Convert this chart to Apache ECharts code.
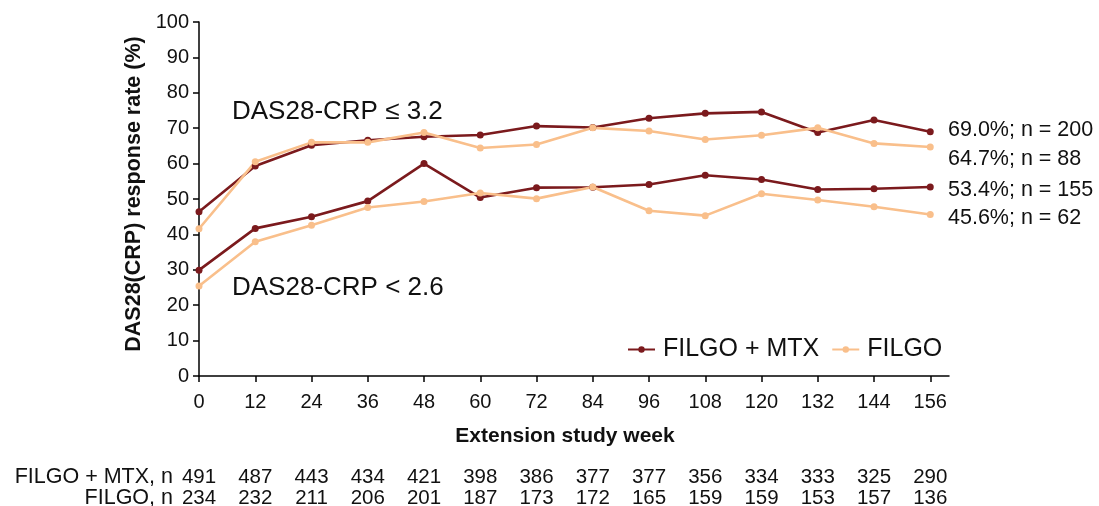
<!DOCTYPE html>
<html>
<head>
<meta charset="utf-8">
<script src="https://cdn.jsdelivr.net/npm/echarts@6/dist/echarts.min.js"></script>
<style>
  html, body { margin: 0; padding: 0; background: #fff; }
  #chart { width: 1099px; height: 506px; }
</style>
</head>
<body>
<div id="chart"></div>
<script>
// ---- data ----
const weeks = [0, 12, 24, 36, 48, 60, 72, 84, 96, 108, 120, 132, 144, 156];
const mtxDas32   = [46.4, 59.3, 65.2, 66.6, 67.6, 68.1, 70.6, 70.2, 72.8, 74.2, 74.6, 68.8, 72.3, 69.0];
const filgoDas32 = [41.6, 60.5, 66.0, 66.0, 68.8, 64.4, 65.4, 70.1, 69.2, 66.8, 68.0, 70.1, 65.7, 64.7];
const mtxDas26   = [29.9, 41.7, 45.0, 49.4, 60.0, 50.4, 53.2, 53.3, 54.1, 56.7, 55.5, 52.7, 52.9, 53.4];
const filgoDas26 = [25.4, 37.9, 42.6, 47.6, 49.3, 51.7, 50.1, 53.4, 46.7, 45.3, 51.5, 49.7, 47.8, 45.6];
const nMtx   = [491, 487, 443, 434, 421, 398, 386, 377, 377, 356, 334, 333, 325, 290];
const nFilgo = [234, 232, 211, 206, 201, 187, 173, 172, 165, 159, 159, 153, 157, 136];
const yTicks = [0, 10, 20, 30, 40, 50, 60, 70, 80, 90, 100];
const endLabels = ['69.0%; n = 200', '64.7%; n = 88', '53.4%; n = 155', '45.6%; n = 62'];
const groupLabels = ['DAS28-CRP \u2264 3.2', 'DAS28-CRP < 2.6'];
const seriesNames = ['FILGO + MTX', 'FILGO'];

const DARK = '#7b1a1d';
const LIGHT = '#f9bf8b';
const FONT = "'Liberation Sans', Arial, sans-serif";

const pairs = arr => weeks.map((w, i) => [w, arr[i]]);

function lineSeries(name, arr, color) {
  return {
    type: 'line', name: name, data: pairs(arr),
    symbol: 'circle', symbolSize: 7,
    lineStyle: { color: color, width: 2.6 },
    itemStyle: { color: color },
    emphasis: { disabled: true },
    animation: false
  };
}

function nAxis(name, values, offset) {
  return {
    type: 'value', min: 0, max: 160, position: 'bottom', offset: offset,
    axisLine: { show: false }, axisTick: { show: false }, splitLine: { show: false },
    axisLabel: {
      customValues: weeks, margin: 0, verticalAlign: 'middle',
      fontSize: 20.5, color: '#111', fontFamily: FONT,
      formatter: v => { const i = weeks.indexOf(v); return i >= 0 ? String(values[i]) : ''; }
    },
    name: name, nameLocation: 'start', nameGap: 26,
    nameTextStyle: { fontSize: 21.5, color: '#111', fontFamily: FONT, verticalAlign: 'middle' }
  };
}

const chart = echarts.init(document.getElementById('chart'));
chart.setOption({
  backgroundColor: '#fff',
  animation: false,
  grid: { left: 199, right: 150, top: 22, bottom: 130, containLabel: false, outerBoundsMode: 'none' },
  xAxis: [
    {
      type: 'value', min: 0, max: 160,
      axisLine: { lineStyle: { color: '#000', width: 1.5 } },
      axisTick: { customValues: weeks, length: 6, lineStyle: { color: '#000', width: 1.5 } },
      axisLabel: { customValues: weeks, margin: 26, verticalAlign: 'middle', fontSize: 20, color: '#111', fontFamily: FONT },
      splitLine: { show: false }
    },
    nAxis('FILGO + MTX, n', nMtx, 101),
    nAxis('FILGO, n', nFilgo, 122)
  ],
  yAxis: {
    type: 'value', min: 0, max: 100, interval: 10,
    axisLine: { show: true, lineStyle: { color: '#000', width: 1.5 } },
    axisTick: { show: true, length: 6, lineStyle: { color: '#000', width: 1.5 } },
    axisLabel: { margin: 10, fontSize: 20, color: '#111', fontFamily: FONT },
    splitLine: { show: false },
    name: 'DAS28(CRP) response rate (%)', nameLocation: 'middle', nameGap: 44,
    nameTextStyle: { fontSize: 21.5, fontWeight: 'bold', color: '#111', fontFamily: FONT, padding: [0, 0, 0, 10] }
  },
  legend: {
    data: seriesNames, left: 622, top: 332, itemWidth: 27, itemHeight: 8, itemGap: 12,
    textStyle: { fontSize: 25, color: '#111', fontFamily: FONT, padding: [0, 0, 0, 3] }
  },
  graphic: [
    { type: 'text', x: 565, y: 436, style: { text: 'Extension study week', font: 'bold 21px ' + FONT, fill: '#111', align: 'center', verticalAlign: 'middle' } },
    { type: 'text', x: 232, y: 112, style: { text: groupLabels[0], font: '26px ' + FONT, fill: '#111', align: 'left', verticalAlign: 'middle' } },
    { type: 'text', x: 232, y: 288, style: { text: groupLabels[1], font: '26px ' + FONT, fill: '#111', align: 'left', verticalAlign: 'middle' } },
    { type: 'text', x: 948, y: 130, style: { text: endLabels[0], font: '21.5px ' + FONT, fill: '#111', align: 'left', verticalAlign: 'middle' } },
    { type: 'text', x: 948, y: 159, style: { text: endLabels[1], font: '21.5px ' + FONT, fill: '#111', align: 'left', verticalAlign: 'middle' } },
    { type: 'text', x: 948, y: 190, style: { text: endLabels[2], font: '21.5px ' + FONT, fill: '#111', align: 'left', verticalAlign: 'middle' } },
    { type: 'text', x: 948, y: 218, style: { text: endLabels[3], font: '21.5px ' + FONT, fill: '#111', align: 'left', verticalAlign: 'middle' } }
  ],
  series: [
    lineSeries(seriesNames[0], mtxDas32, DARK),
    lineSeries(seriesNames[0], mtxDas26, DARK),
    lineSeries(seriesNames[1], filgoDas32, LIGHT),
    lineSeries(seriesNames[1], filgoDas26, LIGHT)
  ]
});
</script>
</body>
</html>
